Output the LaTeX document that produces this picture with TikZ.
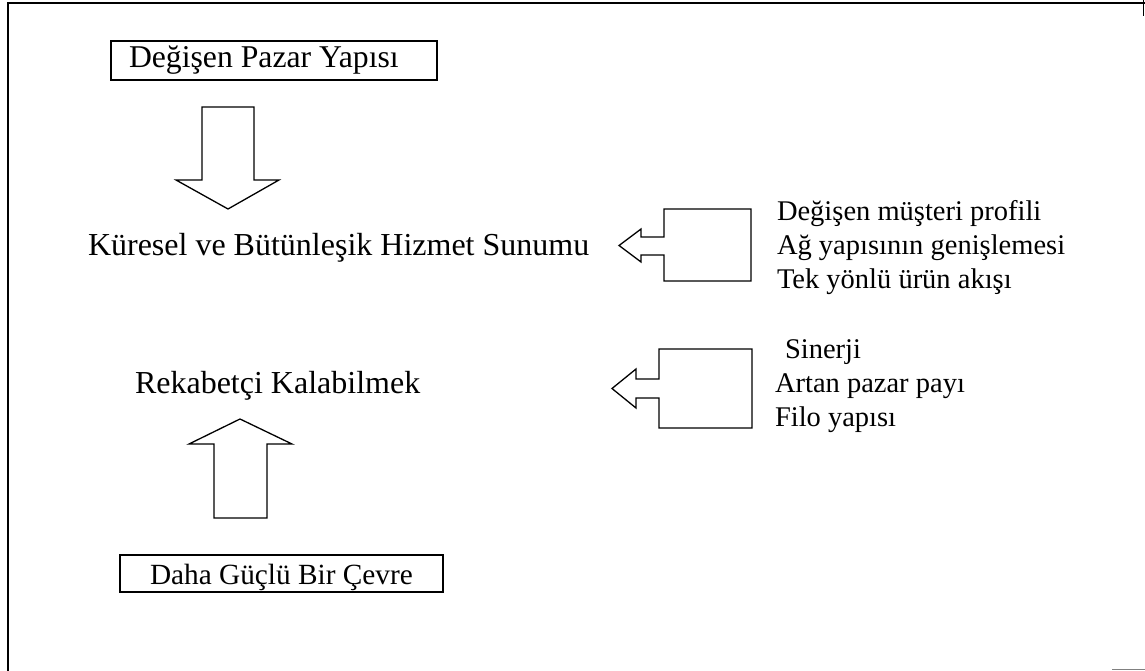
\documentclass[tikz,border=0pt]{standalone}
\usepackage{fontspec}
\setmainfont{Liberation Serif}
\tikzset{
  frameline/.style={line width=1.5pt, draw=black},
  boxline/.style={draw, line width=1.2pt, inner sep=0pt},
  blk/.style={draw, line width=1.3pt, line join=miter, fill=white},
  txt/.style={anchor=base west, inner sep=0pt, outer sep=0pt},
  bigtxt/.style={txt, font=\fontsize{32}{37}\selectfont},
  boxtxt/.style={txt, font=\fontsize{31.7}{36}\selectfont},
  sidetxt/.style={txt, font=\fontsize{28.5}{33}\selectfont},
}
\begin{document}
\begin{tikzpicture}[x=1pt, y=-1pt]
\useasboundingbox (0,0) rectangle (1145,671);
% outer frame (scanned: top and left complete)
\coordinate (fTL) at (8,3);
\coordinate (fTR) at (1145,3);
\coordinate (fBL) at (8,671);
\draw[frameline] (fBL) -- (fTL) -- (fTR);
\draw[frameline] (1143.5,0) -- (1143.5,16);
\draw[line width=1pt, draw=gray] (1112,669.5) -- (1145,669.5);

% top box
\node[boxline, minimum width=326pt, minimum height=39pt] (box1) at (274,60.5) {};
\node[boxtxt] (t1) at (129,68) {Değişen Pazar Yapısı};

% down block arrow
\draw[blk] (202,107) -- (254,107) -- (254,180) -- (279,180) -- (228,209) -- (176,180) -- (202,180) -- cycle;

% centre texts
\node[bigtxt] (kuresel) at (88,255) {Küresel ve Bütünleşik Hizmet Sunumu};
\node[bigtxt] (rekabet) at (135,393) {Rekabetçi Kalabilmek};

% left block arrow 1
\draw[blk] (751,209) -- (751,281) -- (664,281) -- (664,255) -- (641,255) -- (641,262) -- (619,245.5) -- (641,229) -- (641,237) -- (664,237) -- (664,209) -- cycle;
\node[sidetxt] (r1) at (777,220) {Değişen müşteri profili};
\node[sidetxt] (r2) at (777,254) {Ağ yapısının genişlemesi};
\node[sidetxt] (r3) at (777,288) {Tek yönlü ürün akışı};

% left block arrow 2
\draw[blk] (752,349) -- (752,428) -- (659,428) -- (659,398) -- (636,398) -- (636,408) -- (612,388.5) -- (636,369) -- (636,379) -- (659,379) -- (659,349) -- cycle;
\node[sidetxt] (s1) at (785,358) {Sinerji};
\node[sidetxt] (s2) at (775,392) {Artan pazar payı};
\node[sidetxt] (s3) at (775,426) {Filo yapısı};

% up block arrow
\draw[blk] (214,518) -- (267,518) -- (267,444) -- (292,444) -- (240,419) -- (189,444) -- (214,444) -- cycle;

% bottom box
\node[boxline, minimum width=323pt, minimum height=37pt] (box2) at (281.5,573.5) {};
\node[txt, font=\fontsize{29.3}{34}\selectfont] (t2) at (150,584) {Daha Güçlü Bir Çevre};
\end{tikzpicture}
\end{document}
